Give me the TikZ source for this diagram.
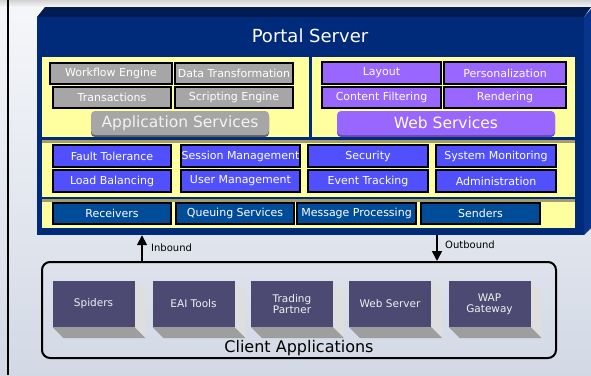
\documentclass[tikz,border=0pt]{standalone}
\usepackage{fontspec}
\setmainfont{DejaVu Sans}
\usetikzlibrary{arrows.meta}
\definecolor{navy}{RGB}{0,42,122}
\definecolor{navytop}{RGB}{0,28,82}
\definecolor{navyside}{RGB}{8,52,140}
\definecolor{panelyellow}{RGB}{255,255,160}
\definecolor{olive}{RGB}{160,158,110}
\definecolor{boxgray}{RGB}{166,166,166}
\definecolor{boxpurple}{RGB}{153,102,255}
\definecolor{boxblue}{RGB}{80,80,255}
\definecolor{boxdark}{RGB}{0,76,153}
\definecolor{cfrontcol}{RGB}{76,74,115}
\definecolor{csidecol}{RGB}{222,222,222}
\definecolor{cbotcol}{RGB}{158,158,158}
\definecolor{bgtop}{RGB}{246,247,250}
\definecolor{bgbot}{RGB}{210,217,229}
\newcommand\clientbox[3]{%
  \fill[csidecol] (#2+41,281) -- (#2+52,292) -- (#2+52,338) -- (#2+41,327) -- cycle;
  \fill[cbotcol] (#2-41,327) -- (#2+41,327) -- (#2+52,338) -- (#2-30,338) -- cycle;
  \node[cfront] (#1) at (#2,304) {#3};
}
\begin{document}
\begin{tikzpicture}[x=1pt,y=-1pt,
  sbox/.style={draw=black, line width=2pt, inner sep=0pt, text=white,
    font=\fontsize{11}{12}\selectfont, minimum height=21pt},
  gbox/.style={sbox, fill=boxgray},
  pbox/.style={sbox, fill=boxpurple},
  bbox/.style={sbox, fill=boxblue},
  dbox/.style={sbox, fill=boxdark},
  biglabel/.style={rounded corners=4pt, inner sep=0pt, minimum height=24pt,
    font=\fontsize{15.5}{17}\selectfont},
  cfront/.style={fill=cfrontcol, text=white!88!gray, minimum width=82pt,
    minimum height=46pt, inner sep=0pt, align=center,
    font=\fontsize{10.5}{11}\selectfont},
  arr/.style={line width=1.6pt, -{Triangle[length=10pt,width=10pt]}},
  smalllabel/.style={anchor=west, inner sep=0pt, font=\fontsize{10}{11}\selectfont}
]
\useasboundingbox (0,0) rectangle (591,375);
\shade[top color=bgtop, bottom color=bgbot] (0,0) rectangle (591,375);
\shade[top color=gray!35, bottom color=bgtop] (0,0) rectangle (591,7);
\draw[line width=2pt] (8,0) -- (8,375);

% portal server 3D box
\fill[navytop] (37,17) -- (45,7) -- (591,7) -- (584,17) -- cycle;
\fill[navyside] (584,17) -- (591,9) -- (591,228) -- (584,235) -- cycle;
\node[fill=navy, inner sep=0pt, minimum width=547pt, minimum height=218pt] (portal) at (310.5,126) {};
\node[text=white, font=\fontsize{18}{20}\selectfont] (title) at (310,36) {Portal Server};

% panels
\fill[panelyellow] (42,57) rectangle (309,137);
\fill[panelyellow] (312,57) rectangle (575,137);
\fill[panelyellow] (42,140) rectangle (575,197);
\fill[olive] (42,140) rectangle (575,142.5);
\fill[panelyellow] (42,199) rectangle (575,228);
\fill[olive] (42,199) rectangle (575,201.5);

% application services
\node[gbox, minimum width=122pt] (wf) at (111,73.5) {Workflow Engine};
\node[gbox, minimum width=118pt] (dt) at (234,73.5) {Data Transformation};
\node[gbox, minimum width=118pt] (tr) at (112,97.5) {Transactions};
\node[gbox, minimum width=118pt] (se) at (234,97.5) {Scripting Engine};
\fill[gray!75!black, rounded corners=4pt] (91,113) rectangle (269,137);
\node[biglabel, fill=boxgray, text=white!90!gray, minimum width=178pt] (as) at (180,123) {Application Services};

% web services
\node[pbox, minimum width=119pt, minimum height=22pt] (lay) at (381.5,73) {Layout};
\node[pbox, minimum width=122pt, minimum height=22pt] (per) at (505,73) {Personalization};
\node[pbox, minimum width=119pt] (cf) at (381.5,97.5) {Content Filtering};
\node[pbox, minimum width=122pt] (ren) at (505,97.5) {Rendering};
\fill[boxpurple!70!black, rounded corners=4pt] (337,113) rectangle (555,137);
\node[biglabel, fill=boxpurple, text=white, minimum width=218pt] (ws) at (446,123) {Web Services};

% infrastructure
\node[bbox, minimum width=118pt, minimum height=22pt] (ft) at (112,156) {Fault Tolerance};
\node[bbox, minimum width=119pt, minimum height=22pt] (sm) at (240.5,156) {Session Management};
\node[bbox, minimum width=120pt, minimum height=22pt] (sec) at (368,156) {Security};
\node[bbox, minimum width=120pt, minimum height=22pt] (sysm) at (496,156) {System Monitoring};
\node[bbox, minimum width=118pt, minimum height=22pt] (lb) at (112,181) {Load Balancing};
\node[bbox, minimum width=119pt, minimum height=22pt] (um) at (240.5,181) {User Management};
\node[bbox, minimum width=120pt, minimum height=22pt] (et) at (368,181) {Event Tracking};
\node[bbox, minimum width=120pt, minimum height=22pt] (adm) at (496,181) {Administration};

% messaging
\node[dbox, minimum width=118pt] (rec) at (112,213.5) {Receivers};
\node[dbox, minimum width=118pt] (qs) at (235,213.5) {Queuing Services};
\node[dbox, minimum width=119pt] (mp) at (356.5,213.5) {Message Processing};
\node[dbox, minimum width=119pt] (snd) at (480.5,213.5) {Senders};

% client applications
\node[draw=black, line width=2pt, rounded corners=8pt, inner sep=0pt,
  minimum width=514pt, minimum height=96pt] (client) at (299,310) {};
\clientbox{spi}{93.5}{Spiders}
\clientbox{eai}{193.5}{EAI Tools}
\clientbox{tp}{292}{Trading\\Partner}
\clientbox{wsv}{390}{Web Server}
\clientbox{wap}{489.5}{WAP\\Gateway}
\node[font=\fontsize{16}{18}\selectfont] (calab) at (299,348) {Client Applications};

% arrows
\coordinate (inx) at (142,0);
\coordinate (outx) at (437,0);
\draw[arr] (client.north -| inx) -- (portal.south -| inx);
\draw[arr] (portal.south -| outx) -- (client.north -| outx);
\node[smalllabel] (inl) at (151,248) {Inbound};
\node[smalllabel] (outl) at (445,245) {Outbound};
\end{tikzpicture}
\end{document}
